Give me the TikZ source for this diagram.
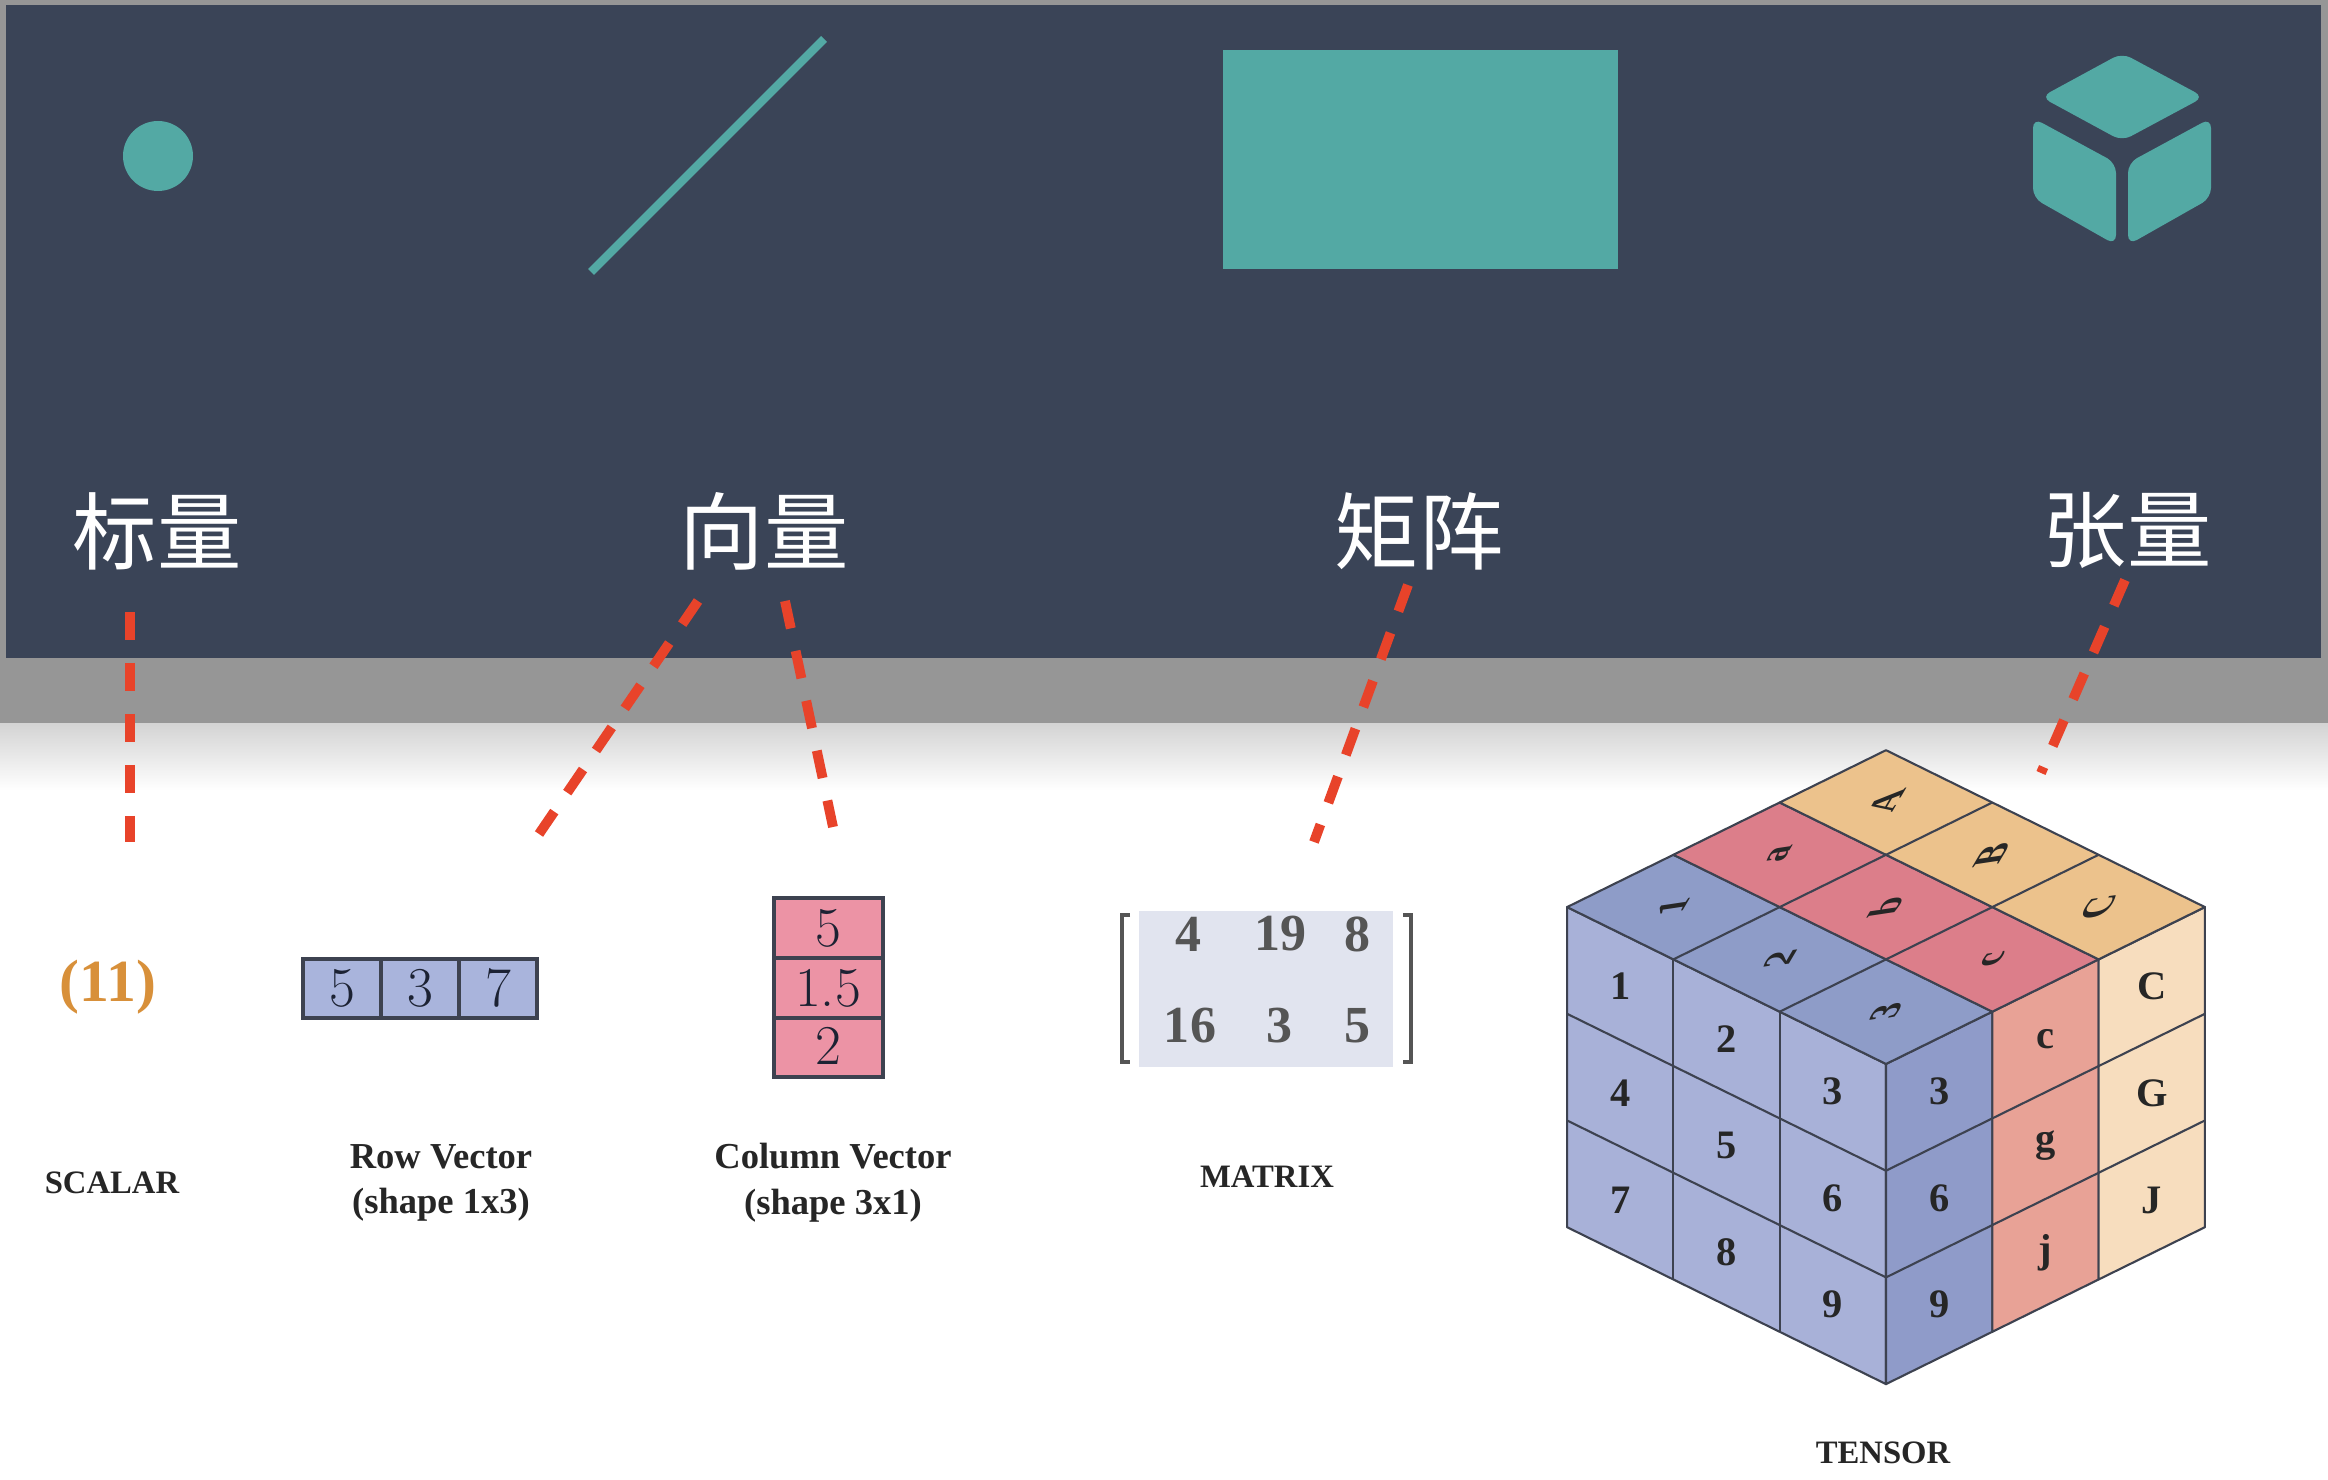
\documentclass[tikz,border=0pt]{standalone}
\usepackage{fontspec}
\setmainfont{Liberation Serif}
\newfontfamily\cjkfont{Noto Sans CJK SC}
\newfontfamily\cellfont{Latin Modern Roman}
\usetikzlibrary{shadings}
\definecolor{panelbg}{HTML}{3A4457}
\definecolor{bandgray}{HTML}{969696}
\definecolor{tealfill}{HTML}{53A9A4}
\definecolor{dashred}{HTML}{E8432A}
\definecolor{gridline}{HTML}{3D4250}
\definecolor{rowblue}{HTML}{A9B4DC}
\definecolor{colpink}{HTML}{EC93A5}
\definecolor{mxbg}{HTML}{E1E4EF}
\definecolor{mxtext}{HTML}{555555}
\definecolor{scalarorange}{HTML}{D8903A}
\definecolor{vecink}{HTML}{1C2233}
\definecolor{topblue}{HTML}{8E9CC8}
\definecolor{leftblue}{HTML}{A8B1D8}
\definecolor{rightblue}{HTML}{8F9BC9}
\definecolor{topred}{HTML}{DC7E8A}
\definecolor{rightred}{HTML}{E8A296}
\definecolor{toporange}{HTML}{ECC28C}
\definecolor{rightcream}{HTML}{F7DDBE}
\tikzset{
	zhlabel/.style={text=white, font=\cjkfont\fontsize{24}{24}\selectfont, inner sep=0pt},
	guide/.style={draw=dashred, line width=2.8pt, dash pattern=on 0.28cm off 0.23cm},
	caption/.style={font=\fontsize{10.4}{13}\selectfont\bfseries, text=black!85, align=center, inner sep=0pt},
	capcaption/.style={font=\fontsize{9.3}{12}\selectfont\bfseries, text=black!85, inner sep=0pt},
	vecbox/.style={draw=gridline, line width=1.1pt},
	veccell/.style={font=\cellfont\fontsize{16}{16}\selectfont, text=vecink, inner sep=0pt},
	mxcell/.style={font=\fontsize{14.8}{15}\selectfont\bfseries, text=mxtext, inner sep=0pt},
	bracket/.style={draw=mxtext, line width=1pt},
	face/.style={draw=gridline, line width=0.6pt, line join=round},
	grid/.style={draw=gridline, line width=0.6pt},
	cubecell/.style={font=\fontsize{11.5}{12}\selectfont\bfseries, text=black!85, inner sep=0pt},
	topcell/.style={cubecell, cm={0.5,0.85,-1,-0.15,(0,0)}},
	icon/.style={fill=tealfill, rounded corners=0.1cm}
}
\begin{document}
\begin{tikzpicture}
	\useasboundingbox (0,0) rectangle (23.28,14.8);
	% page and top panel
	\fill[white] (0,0) rectangle (23.28,14.8);
	\fill[bandgray] (0,7.56) rectangle (23.28,14.8);
	\shade[top color=black!17, bottom color=white] (0,6.9) rectangle (23.28,7.56);
	\fill[panelbg] (0.06,8.22) rectangle (23.21,14.75);

	% the four shapes
	\fill[tealfill] (1.58,13.24) circle (0.35);
	\draw[tealfill, line width=2.4pt] (5.91,12.08) -- (8.24,14.41);
	\fill[tealfill] (12.23,12.11) rectangle (16.18,14.30);
	\fill[icon] (20.41,13.83) -- (21.22,14.27) -- (22.04,13.83) -- (21.22,13.39) -- cycle;
	\fill[icon] (20.33,13.62) -- (21.16,13.17) -- (21.16,12.35) -- (20.33,12.82) -- cycle;
	\fill[icon] (22.11,13.62) -- (21.28,13.17) -- (21.28,12.35) -- (22.11,12.82) -- cycle;

	% chinese labels
	\node (bq) at (1.57,9.49) [zhlabel] {标量};
	\node (xl) at (7.64,9.49) [zhlabel] {向量};
	\node (jz) at (14.19,9.49) [zhlabel] {矩阵};
	\node (zl) at (21.27,9.49) [zhlabel] {张量};

	% ends of the red guides
	\coordinate (g1a) at (1.30,8.68);
	\coordinate (g1b) at (1.30,6.38);
	\coordinate (g2a) at (6.98,8.79);
	\coordinate (g2b) at (5.39,6.46);
	\coordinate (g3a) at (7.85,8.79);
	\coordinate (g3b) at (8.33,6.53);
	\coordinate (g4a) at (14.08,8.95);
	\coordinate (g4b) at (13.14,6.38);
	\coordinate (g5a) at (21.25,9.00);
	\coordinate (g5b) at (20.41,7.07);
	\draw[guide] (g1a) -- (g1b);
	\draw[guide] (g2a) -- (g2b);
	\draw[guide] (g3a) -- (g3b);
	\draw[guide] (g4a) -- (g4b);
	\draw[guide] (g5a) -- (g5b);

	% scalar
	\node (sc) at (1.08,4.93) [font=\fontsize{17}{17}\selectfont\bfseries, text=scalarorange, inner sep=0pt] {(11)};
	\node (sccap) at (1.12,2.97) [capcaption] {SCALAR};

	% row vector
	\draw[vecbox, fill=rowblue] (3.03,4.62) rectangle (5.37,5.21);
	\draw[vecbox] (3.81,4.62) -- (3.81,5.21) (4.59,4.62) -- (4.59,5.21);
	\node (r1) at (3.42,4.92) [veccell] {5};
	\node (r2) at (4.20,4.92) [veccell] {3};
	\node (r3) at (4.98,4.92) [veccell] {7};
	\node (rcap) at (4.41,2.97) [caption] {Row Vector\\(shape 1x3)};

	% column vector
	\draw[vecbox, fill=colpink] (7.74,4.03) rectangle (8.83,5.82);
	\draw[vecbox] (7.74,5.22) -- (8.83,5.22) (7.74,4.62) -- (8.83,4.62);
	\node (c1) at (8.28,5.52) [veccell] {5};
	\node (c2) at (8.28,4.92) [veccell] {1.5};
	\node (c3) at (8.28,4.34) [veccell] {2};
	\node (ccap) at (8.33,2.97) [caption] {Column Vector\\(shape 3x1)};

	% matrix
	\fill[mxbg] (11.39,4.13) rectangle (13.93,5.69);
	\draw[bracket] (11.30,5.65) -- (11.22,5.65) -- (11.22,4.18) -- (11.30,4.18);
	\draw[bracket] (14.03,5.65) -- (14.11,5.65) -- (14.11,4.18) -- (14.03,4.18);
	\node (m1) at (11.88,5.46) [mxcell] {4};
	\node (m2) at (12.80,5.46) [mxcell] {19};
	\node (m3) at (13.57,5.46) [mxcell] {8};
	\node (m4) at (11.90,4.54) [mxcell] {16};
	\node (m5) at (12.79,4.54) [mxcell] {3};
	\node (m6) at (13.57,4.54) [mxcell] {5};
	\node (mcap) at (12.67,3.03) [capcaption] {MATRIX};

	% tensor, i goes to the left corner, j to the right corner
	\begin{scope}[shift={(18.86,4.16)}, x={(-1.063cm,0.523cm)}, y={(1.063cm,0.523cm)}, z={(0cm,1.067cm)}]
		\filldraw[face, fill=leftblue] (0,0,0) -- (3,0,0) -- (3,0,-3) -- (0,0,-3) -- cycle;
		\filldraw[face, fill=rightblue] (0,0,0) -- (0,1,0) -- (0,1,-3) -- (0,0,-3) -- cycle;
		\filldraw[face, fill=rightred] (0,1,0) -- (0,2,0) -- (0,2,-3) -- (0,1,-3) -- cycle;
		\filldraw[face, fill=rightcream] (0,2,0) -- (0,3,0) -- (0,3,-3) -- (0,2,-3) -- cycle;
		\filldraw[face, fill=topblue] (0,0,0) -- (3,0,0) -- (3,1,0) -- (0,1,0) -- cycle;
		\filldraw[face, fill=topred] (0,1,0) -- (3,1,0) -- (3,2,0) -- (0,2,0) -- cycle;
		\filldraw[face, fill=toporange] (0,2,0) -- (3,2,0) -- (3,3,0) -- (0,3,0) -- cycle;
		\draw[grid] (1,0,0) -- (1,0,-3) (2,0,0) -- (2,0,-3);
		\draw[grid] (0,0,-1) -- (3,0,-1) (0,0,-2) -- (3,0,-2);
		\draw[grid] (0,0,-1) -- (0,3,-1) (0,0,-2) -- (0,3,-2);
		\draw[grid] (1,0,0) -- (1,3,0) (2,0,0) -- (2,3,0);

		\node (t1) at (2.5,0.5,0) [topcell] {1};
		\node (t2) at (1.5,0.5,0) [topcell] {2};
		\node (t3) at (0.5,0.5,0) [topcell] {3};
		\node (ta) at (2.5,1.5,0) [topcell] {a};
		\node (tb) at (1.5,1.5,0) [topcell] {b};
		\node (tc) at (0.5,1.5,0) [topcell] {c};
		\node (tA) at (2.5,2.5,0) [topcell] {A};
		\node (tB) at (1.5,2.5,0) [topcell] {B};
		\node (tC) at (0.5,2.5,0) [topcell] {C};

		\node (l1) at (2.5,0,-0.5) [cubecell] {1};
		\node (l2) at (1.5,0,-0.5) [cubecell] {2};
		\node (l3) at (0.5,0,-0.5) [cubecell] {3};
		\node (l4) at (2.5,0,-1.5) [cubecell] {4};
		\node (l5) at (1.5,0,-1.5) [cubecell] {5};
		\node (l6) at (0.5,0,-1.5) [cubecell] {6};
		\node (l7) at (2.5,0,-2.5) [cubecell] {7};
		\node (l8) at (1.5,0,-2.5) [cubecell] {8};
		\node (l9) at (0.5,0,-2.5) [cubecell] {9};

		\node (s3) at (0,0.5,-0.5) [cubecell] {3};
		\node (s6) at (0,0.5,-1.5) [cubecell] {6};
		\node (s9) at (0,0.5,-2.5) [cubecell] {9};
		\node (sc1) at (0,1.5,-0.5) [cubecell] {c};
		\node (sg) at (0,1.5,-1.5) [cubecell] {g};
		\node (sj) at (0,1.5,-2.5) [cubecell] {j};
		\node (sC) at (0,2.5,-0.5) [cubecell] {C};
		\node (sG) at (0,2.5,-1.5) [cubecell] {G};
		\node (sJ) at (0,2.5,-2.5) [cubecell] {J};
	\end{scope}
	\node (tcap) at (18.83,0.27) [capcaption] {TENSOR};
\end{tikzpicture}
\end{document}
